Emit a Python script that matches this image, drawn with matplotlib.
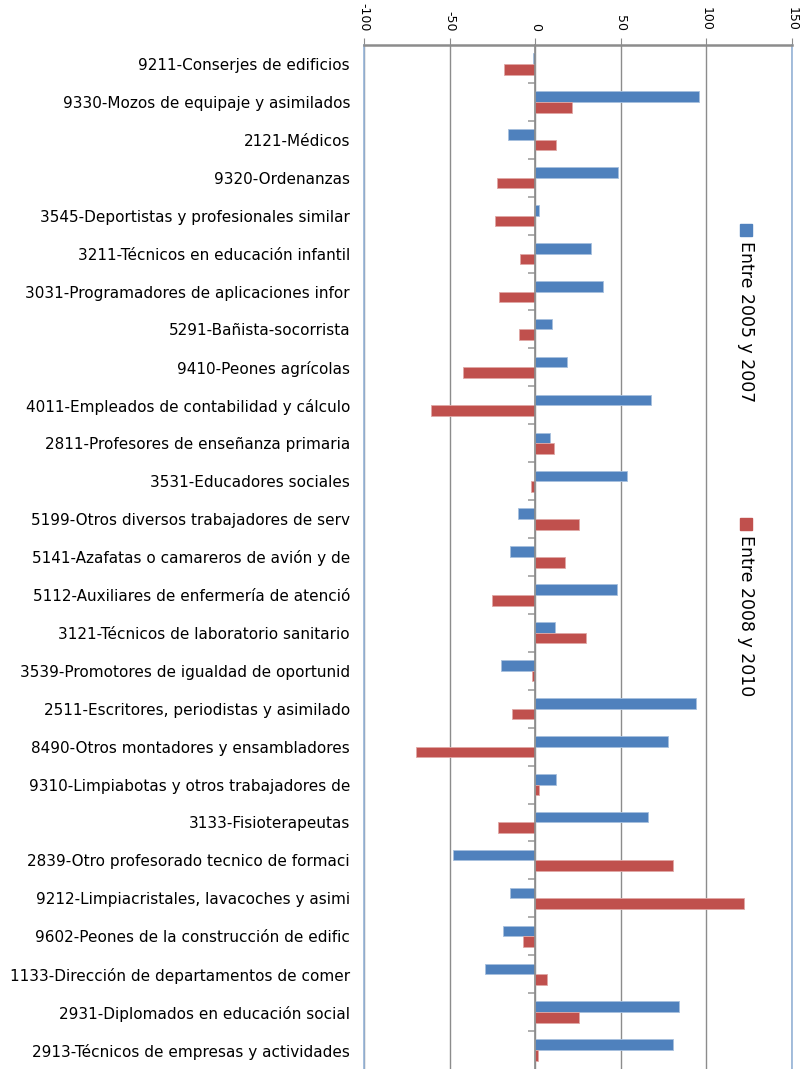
import matplotlib.pyplot as plt
import numpy as np
from matplotlib.patches import Rectangle

categories = [
    '9211-Conserjes de edificios',
    '9330-Mozos de equipaje y asimilados',
    '2121-Médicos',
    '9320-Ordenanzas',
    '3545-Deportistas y profesionales similar',
    '3211-Técnicos en educación infantil',
    '3031-Programadores de aplicaciones infor',
    '5291-Bañista-socorrista',
    '9410-Peones agrícolas',
    '4011-Empleados de contabilidad y cálculo',
    '2811-Profesores de enseñanza primaria',
    '3531-Educadores sociales',
    '5199-Otros diversos trabajadores de serv',
    '5141-Azafatas o camareros de avión y de',
    '5112-Auxiliares de enfermería de atenció',
    '3121-Técnicos de laboratorio sanitario',
    '3539-Promotores de igualdad de oportunid',
    '2511-Escritores, periodistas y asimilado',
    '8490-Otros montadores y ensambladores',
    '9310-Limpiabotas y otros trabajadores de',
    '3133-Fisioterapeutas',
    '2839-Otro profesorado tecnico de formaci',
    '9212-Limpiacristales, lavacoches y asimi',
    '9602-Peones de la construcción de edific',
    '1133-Dirección de departamentos de comer',
    '2931-Diplomados en educación social',
    '2913-Técnicos de empresas y actividades',
]
entre_2005_2007 = [-1.2, 95.7, -15.7, 48.6, 2.0, 32.5, 39.5, 9.9, 18.7, 67.9,
                   8.8, 53.7, -9.9, -14.8, 47.7, 11.7, -20.0, 93.8, 77.6, 11.9,
                   65.9, -47.8, -14.9, -18.7, -29.2, 84.0, 80.2]
entre_2008_2010 = [-18.1, 21.4, 12.3, -22.5, -23.5, -9.1, -21.2, -9.7, -42.4, -60.9,
                   10.9, -2.5, 25.5, 17.5, -25.1, 29.8, -1.7, -13.8, -69.6, 2.0,
                   -21.9, 80.7, 121.9, -7.4, 7.0, 25.5, 1.4]
series_names = ['Entre 2005 y 2007', 'Entre 2008 y 2010']
xticks = [-100, -50, 0, 50, 100, 150]

blue = '#4F81BD'
red = '#C0504D'
grid_col = '#8C8C8C'

W, H = 808, 1069
fig = plt.figure(figsize=(W / 100, H / 100), dpi=100)
ax = fig.add_axes([364 / W, 0, (792 - 364) / W, (1069 - 45) / H])

y = np.arange(len(categories))
bh = 0.28
ax.barh(y - bh / 2, entre_2005_2007, height=bh, color=blue, edgecolor='#A7C0DE', linewidth=0.6, zorder=3)
ax.barh(y + bh / 2, entre_2008_2010, height=bh, color=red, edgecolor='#DFA8A6', linewidth=0.6, zorder=3)

ax.set_xlim(-100, 150)
ax.set_ylim(len(categories) - 0.5, -0.5)
ax.set_xticks(xticks)
ax.set_xticklabels([str(t) for t in xticks], rotation=-90, fontsize=9,
                   family=['Liberation Sans Narrow', 'DejaVu Sans'])
ax.xaxis.tick_top()
ax.tick_params(axis='x', direction='out', length=5, color=grid_col, pad=5)
ax.grid(axis='x', color=grid_col, linewidth=1, zorder=0)

ax.set_yticks(y)
ax.set_yticklabels(categories, fontsize=11)
ax.tick_params(axis='y', length=0, pad=10)

ax.spines['bottom'].set_visible(False)
ax.spines['top'].set_color(grid_col)
ax.spines['top'].set_linewidth(1.8)
for s in ['left', 'right']:
    ax.spines[s].set_color('#95B3D7')
    ax.spines[s].set_linewidth(1.2)

# category axis at zero with boundary ticks
ax2 = ax.twinx()
ax2.set_ylim(ax.get_ylim())
ax2.spines['left'].set_position(('data', 0))
ax2.spines['left'].set_color(grid_col)
ax2.spines['left'].set_linewidth(1.2)
ax2.spines['left'].set_zorder(4)
for s in ['right', 'top', 'bottom']:
    ax2.spines[s].set_visible(False)
ax2.yaxis.set_ticks_position('left')
ax2.set_yticks(np.arange(len(categories) - 1) + 0.5)
ax2.set_yticklabels([])
ax2.tick_params(axis='y', direction='out', length=5, color='#A0A0A0', width=1.2)

# legend, rotated like the reference
for name, col, ytop in [(series_names[0], blue, 224), (series_names[1], red, 518)]:
    fig.patches.append(Rectangle((740 / W, 1 - (ytop + 12) / H), 12 / W, 12 / H,
                                 transform=fig.transFigure, color=col))
    fig.text(746 / W, 1 - (ytop + 17) / H, name, rotation=-90, fontsize=12.5,
             ha='center', va='top')

fig.savefig('out.png', dpi=100)
